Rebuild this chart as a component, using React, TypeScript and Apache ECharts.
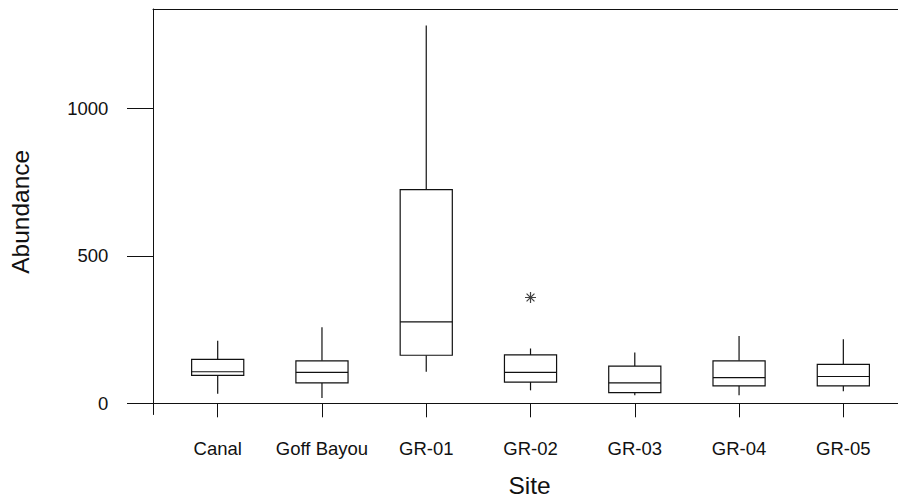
import React, { useEffect, useRef } from "react";
import * as echarts from "echarts";

const sites = ["Canal", "Goff Bayou", "GR-01", "GR-02", "GR-03", "GR-04", "GR-05"];
const whiskerLow = [32, 18, 107, 44, 27, 27, 41];
const q1 = [95, 69, 163, 72, 36, 59, 59];
const median = [107, 105, 276, 105, 69, 87, 91];
const q3 = [149, 144, 725, 164, 126, 144, 132];
const whiskerHigh = [212, 258, 1282, 186, 172, 228, 217];
const outlierSites = ["GR-02"];
const outlierValues = [359];
const yTicks = [0, 500, 1000];

const FONT = "'Liberation Sans', Arial, Helvetica, sans-serif";

export default function App() {
  const ref = useRef<HTMLDivElement>(null);
  useEffect(() => {
    if (!ref.current) return;
    const chart = echarts.init(ref.current, undefined, { renderer: "svg" });
    const positions = sites.map((_, i) => i + 1);
    const boxData = sites.map((_, i) => [
      i + 1,
      whiskerLow[i],
      q1[i],
      median[i],
      q3[i],
      whiskerHigh[i],
    ]);
    const outlierData = outlierSites.map((s, i) => [sites.indexOf(s) + 1, outlierValues[i]]);
    const stroke = "#111";
    chart.setOption({
      animation: false,
      backgroundColor: "#fff",
      textStyle: { fontFamily: FONT, color: "#111" },
      grid: { left: 153, top: 9, width: 753, height: 405.5, outerBoundsMode: "none", containLabel: false },
      xAxis: [
        {
          type: "value",
          min: 0.3795,
          max: 7.601,
          position: "bottom",
          splitLine: { show: false },
          axisLine: { show: true, lineStyle: { color: stroke, width: 1 } },
          axisTick: {
            show: true,
            customValues: positions,
            length: 14,
            lineStyle: { color: stroke, width: 1 },
          },
          axisLabel: {
            customValues: positions,
            formatter: (v: number) => sites[Math.round(v) - 1] ?? "",
            margin: 24,
            fontSize: 18.5,
            fontFamily: FONT,
            color: "#111",
          },
          name: "Site",
          nameLocation: "middle",
          nameGap: 58,
          nameTextStyle: { fontSize: 24.5, fontFamily: FONT, color: "#111" },
        },
        {
          type: "value",
          min: 0.3795,
          max: 7.601,
          position: "top",
          splitLine: { show: false },
          axisLine: { show: true, lineStyle: { color: stroke, width: 1 } },
          axisTick: { show: false },
          axisLabel: { show: false },
        },
      ],
      yAxis: {
        type: "value",
        min: -38,
        max: 1338,
        splitLine: { show: false },
        axisLine: { show: true, lineStyle: { color: stroke, width: 1 } },
        axisTick: {
          show: true,
          customValues: yTicks,
          length: 26,
          lineStyle: { color: stroke, width: 1 },
        },
        axisLabel: {
          customValues: yTicks,
          formatter: (v: number) => String(v),
          margin: 44.7,
          fontSize: 18.5,
          fontFamily: FONT,
          color: "#111",
        },
        name: "Abundance",
        nameLocation: "middle",
        nameGap: 120,
        nameTextStyle: { fontSize: 24.5, fontFamily: FONT, color: "#111" },
      },
      series: [
        {
          type: "custom",
          xAxisIndex: 0,
          data: boxData,
          encode: { x: 0, y: [1, 2, 3, 4, 5] },
          renderItem: (params: any, api: any) => {
            const x = api.value(0);
            const pLow = api.coord([x, api.value(1)]);
            const pQ1 = api.coord([x, api.value(2)]);
            const pMed = api.coord([x, api.value(3)]);
            const pQ3 = api.coord([x, api.value(4)]);
            const pHigh = api.coord([x, api.value(5)]);
            const w = api.size([0.5, 0])[0];
            const cx = pMed[0];
            const ls = { stroke, lineWidth: 1.2, fill: null };
            return {
              type: "group",
              children: [
                { type: "line", shape: { x1: cx, y1: pHigh[1], x2: cx, y2: pQ3[1] }, style: ls },
                { type: "line", shape: { x1: cx, y1: pQ1[1], x2: cx, y2: pLow[1] }, style: ls },
                {
                  type: "rect",
                  shape: { x: cx - w / 2, y: pQ3[1], width: w, height: pQ1[1] - pQ3[1] },
                  style: { stroke, lineWidth: 1.2, fill: "#fff" },
                },
                {
                  type: "line",
                  shape: { x1: cx - w / 2, y1: pMed[1], x2: cx + w / 2, y2: pMed[1] },
                  style: ls,
                },
              ],
            };
          },
        },
        {
          type: "scatter",
          xAxisIndex: 0,
          data: outlierData,
          symbol: "path://M-6,0L6,0M0,-6L0,6M-4.3,-4.3L4.3,4.3M-4.3,4.3L4.3,-4.3",
          symbolSize: 11,
          itemStyle: { color: "none", borderColor: stroke, borderWidth: 1.2 },
        },
      ],
    });
    return () => chart.dispose();
  }, []);
  return (
    <div
      ref={ref}
      style={{ position: "fixed", left: 0, top: 0, width: 898, height: 499, background: "#fff" }}
    />
  );
}
